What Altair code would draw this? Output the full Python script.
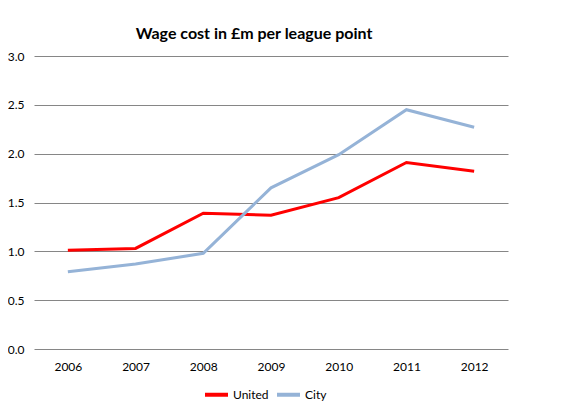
import altair as alt
import pandas as pd

years = ["2006", "2007", "2008", "2009", "2010", "2011", "2012"]
united = [1.01, 1.03, 1.39, 1.37, 1.55, 1.91, 1.82]
city = [0.79, 0.87, 0.98, 1.65, 1.99, 2.45, 2.27]
series = ["United", "City"]
colors = ["#FF0000", "#95B3D7"]

rows = []
for y, u, c in zip(years, united, city):
    rows.append({"year": y, "series": "United", "value": u})
    rows.append({"year": y, "series": "City", "value": c})
df = pd.DataFrame(rows)

FONT = "Lato"

lines = alt.Chart(df).mark_line(strokeWidth=3).encode(
    x=alt.X("year:N", sort=years, title=None,
            scale=alt.Scale(paddingInner=0, paddingOuter=0.5),
            axis=alt.Axis(labelAngle=0, domain=False, ticks=False, grid=False,
                          labelPadding=12, labelFontSize=12, labelFont=FONT,
                          labelColor="#000000")),
    y=alt.Y("value:Q", title=None,
            scale=alt.Scale(domain=[0, 3]),
            axis=alt.Axis(values=[0, 0.5, 1, 1.5, 2, 2.5, 3], format=".1f",
                          domain=False, ticks=False, gridColor="#868686",
                          gridWidth=1, labelPadding=10, labelFontSize=12,
                          labelFont=FONT, labelColor="#000000")),
    color=alt.Color("series:N", sort=series,
                    scale=alt.Scale(domain=series, range=colors),
                    legend=alt.Legend(title=None, orient="none", direction="horizontal",
                                      legendX=169, legendY=325,
                                      symbolType="stroke", symbolSize=529,
                                      symbolStrokeWidth=4, labelFontSize=12,
                                      labelFont=FONT, labelColor="#000000",
                                      columnPadding=0, labelOffset=3)),
    order=alt.Order("year:N"),
)

chart = lines.properties(
    width=474, height=293,
    padding={"left": 26, "top": 48, "right": 60, "bottom": 59},
    autosize=alt.AutoSizeParams(type="none"),
    title=alt.TitleParams("Wage cost in £m per league point", font=FONT,
                          fontSize=16, fontWeight="bold", color="#000000",
                          anchor="middle", frame="group", dx=-17, offset=8),
).configure(background="white").configure_view(strokeWidth=0, stroke="transparent")

chart.save("out.html", embed_options={"renderer": "svg", "actions": False})
